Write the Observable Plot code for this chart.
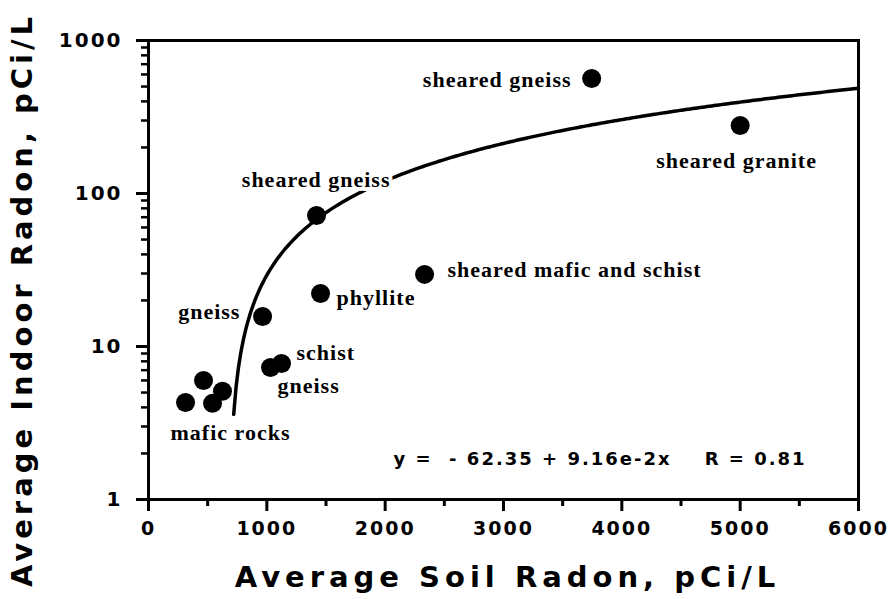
<!DOCTYPE html>
<html><head><meta charset="utf-8">
<script src="https://cdn.jsdelivr.net/npm/d3@7"></script>
<script src="https://cdn.jsdelivr.net/npm/@observablehq/plot@0.6"></script>
<style>body{margin:0;background:#fff} svg{display:block}</style>
</head><body><div id="chart"></div>
<script>
// Data points (average soil radon vs average indoor radon, pCi/L)
const rockTypes   = ["sheared gneiss", "sheared granite", "sheared gneiss", "sheared mafic and schist", "phyllite", "gneiss", "schist", "gneiss", "mafic rocks", "mafic rocks", "mafic rocks", "mafic rocks"];
const soilRadon   = [3745, 5000, 1420, 2333, 1454, 964, 1031, 1124, 313, 465, 541, 625];
const indoorRadon = [565, 278, 71.8, 29.6, 22.2, 15.7, 7.3, 7.75, 4.3, 6.0, 4.25, 5.1];

// Point labels
const labelTexts  = ["sheared gneiss", "sheared granite", "sheared gneiss", "sheared mafic and schist", "phyllite", "gneiss", "schist", "gneiss", "mafic rocks"];
const labelSoil   = [3575, 4970, 2045, 2527, 1589, 777, 1251, 1090, 693];
const labelIndoor = [556, 164, 121.7, 31.8, 20.9, 16.7, 9.14, 5.56, 2.74];
const labelAlign  = ["end", "middle", "end", "start", "start", "end", "start", "start", "middle"];

// Regression shown on the chart
const fitIntercept = -62.35;
const fitSlope = 9.16e-2;
const fitR = 0.81;
const fitStart = 720, fitEnd = 6000;

// Axes
const xTicks = [0, 1000, 2000, 3000, 4000, 5000, 6000];
const xMinorTicks = [500, 1500, 2500, 3500, 4500, 5500];
const yTicks = [1, 10, 100, 1000];
const yMinorTicks = [2,3,4,5,6,7,8,9,20,30,40,50,60,70,80,90,200,300,400,500,600,700,800,900];
const xTitle = "Average Soil Radon, pCi/L";
const yTitle = "Average Indoor Radon, pCi/L";
const equationText = "y =  - 62.35 + 9.16e-2x    R = " + fitR.toFixed(2);

const points = rockTypes.map((t, i) => ({rock: t, soil: soilRadon[i], indoor: indoorRadon[i]}));
const labels = labelTexts.map((t, i) => ({text: t, soil: labelSoil[i], indoor: labelIndoor[i], align: labelAlign[i]}));
const fitLine = d3.range(fitStart, fitEnd + 1, 20).map(x => ({soil: x, indoor: fitIntercept + fitSlope * x}));

const serif = "'Liberation Serif', 'Times New Roman', serif";
const sans = "'DejaVu Sans', sans-serif";

const labelMark = (align, extra = {}) => Plot.text(labels.filter(d => d.align === align), {
  x: "soil", y: "indoor", text: "text", textAnchor: align,
  fontFamily: serif, fontSize: 22, fontWeight: "bold", fill: "black", ...extra
});

const chart = Plot.plot({
  width: 891, height: 599,
  marginLeft: 148, marginRight: 33, marginTop: 40, marginBottom: 100,
  x: {domain: [0, 6000]},
  y: {type: "log", domain: [1, 1000]},
  style: {background: "white", color: "black"},
  marks: [
    Plot.line(fitLine, {x: "soil", y: "indoor", stroke: "black", strokeWidth: 3.5}),
    Plot.dot(points, {x: "soil", y: "indoor", r: 9.5, fill: "black"}),
    labelMark("end", {stroke: "white", strokeWidth: 8}),
    labelMark("start"),
    labelMark("middle"),
    Plot.frame({stroke: "black", strokeWidth: 3}),
    Plot.axisX(xTicks, {tickSize: 12, tickPadding: 10, strokeWidth: 3, fontSize: 19, fontWeight: "bold", fontFamily: sans, label: null, tickFormat: d => String(d)}),
    Plot.axisX(xMinorTicks, {tickSize: 7, strokeWidth: 3, label: null, tickFormat: () => ""}),
    Plot.axisY(yTicks, {tickSize: 12, tickPadding: 14, strokeWidth: 3, fontSize: 20, fontWeight: "bold", fontFamily: sans, label: null, tickFormat: d => String(d)}),
    Plot.axisY(yMinorTicks, {tickSize: 7, strokeWidth: 2.5, label: null, tickFormat: () => ""}),
    Plot.text([yTitle], {frameAnchor: "left", dx: -126, dy: 30, rotate: -90, textAnchor: "middle", lineAnchor: "middle", fontFamily: sans, fontSize: 29, fontWeight: "bold", fill: "black"}),
    Plot.text([xTitle], {frameAnchor: "bottom", dx: 4, dy: 78, textAnchor: "middle", lineAnchor: "middle", fontFamily: sans, fontSize: 29, fontWeight: "bold", fill: "black"}),
    Plot.text([equationText], {frameAnchor: "bottom-left", dx: 245, dy: -40, textAnchor: "start", lineAnchor: "middle", fontFamily: sans, fontSize: 18, fontWeight: "bold", fill: "black"})
  ]
});

const svg = d3.select(chart);
svg.selectAll("text").filter(function() { return this.textContent === yTitle; })
  .attr("letter-spacing", 4);
svg.selectAll("text").filter(function() { return this.textContent === xTitle; })
  .attr("letter-spacing", 5);
svg.selectAll("text").filter(function() { return this.textContent === equationText; })
  .style("white-space", "pre").attr("letter-spacing", 2);
svg.selectAll("text").filter(function() { return /^\d+$/.test(this.textContent); })
  .attr("letter-spacing", 2);
svg.selectAll("text").filter(function() { return labelTexts.includes(this.textContent); })
  .attr("letter-spacing", 1);
document.getElementById("chart").appendChild(chart);
</script>
</body></html>
